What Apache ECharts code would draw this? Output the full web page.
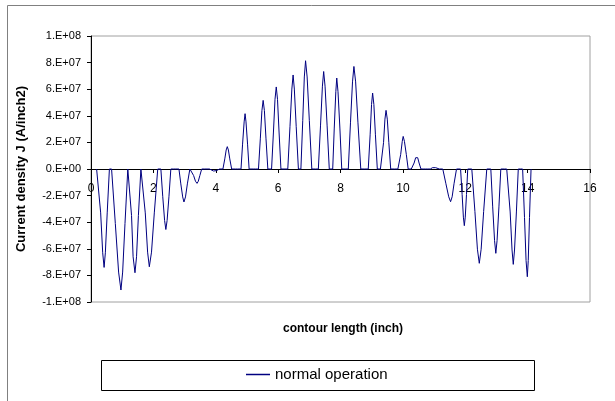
<!DOCTYPE html>
<html>
<head>
<meta charset="utf-8">
<script src="https://cdn.jsdelivr.net/npm/echarts@6/dist/echarts.min.js"></script>
<style>
  html, body { margin: 0; padding: 0; background: #fff; }
  #chart { width: 615px; height: 401px; }
</style>
</head>
<body>
<div id="chart"></div>
<script>
// contour length (inch)
const contourLength = [
  0.18,
  0.24, 0.31, 0.375, 0.42, 0.46, 0.52, 0.59,
  0.63,
  0.66, 0.78, 0.885, 0.96, 1.015, 1.09, 1.18,
  1.22, 1.30, 1.35, 1.41, 1.46, 1.52, 1.60,
  1.65, 1.74, 1.815, 1.87, 1.94, 2.03, 2.14,
  2.19,
  2.24, 2.30, 2.36, 2.40, 2.44, 2.50, 2.56,
  2.64, 2.72, 2.78,
  2.82, 2.88, 2.94, 2.98, 3.03, 3.09, 3.17,
  3.21, 3.29, 3.35, 3.40, 3.44, 3.49, 3.55,
  3.63, 3.72, 3.80, 3.86, 3.93, 3.98, 4.03, 4.07, 4.12, 4.18,
  4.23, 4.29, 4.335, 4.37, 4.405, 4.45, 4.51,
  4.57, 4.63, 4.70, 4.76,
  4.81, 4.86, 4.91, 4.94, 4.97, 5.02, 5.07,
  5.13, 5.20, 5.27, 5.33,
  5.37, 5.43, 5.48, 5.52, 5.56, 5.61, 5.67,
  5.73,
  5.79, 5.85, 5.90, 5.94, 5.98, 6.03, 6.09,
  6.15, 6.22, 6.27,
  6.31, 6.38, 6.44, 6.48, 6.52, 6.58, 6.65,
  6.69,
  6.73, 6.79, 6.84, 6.88, 6.93, 7.00, 7.08,
  7.14, 7.20, 7.25,
  7.29, 7.36, 7.42, 7.46, 7.505, 7.57, 7.64,
  7.70,
  7.75, 7.80, 7.85, 7.88, 7.92, 7.98, 8.04,
  8.10, 8.15, 8.21,
  8.25, 8.32, 8.385, 8.43, 8.485, 8.56, 8.65,
  8.71, 8.78, 8.84,
  8.89, 8.95, 8.995, 9.03, 9.07, 9.12, 9.18,
  9.23, 9.28,
  9.32, 9.38, 9.425, 9.46, 9.50, 9.55, 9.61,
  9.67, 9.73, 9.79, 9.84,
  9.88, 9.93, 9.98, 10.01, 10.05, 10.11, 10.17,
  10.22, 10.27,
  10.31, 10.36, 10.41, 10.44, 10.475, 10.52, 10.58,
  10.65, 10.72, 10.80, 10.88, 10.95, 11.00, 11.05, 11.10, 11.17, 11.23,
  11.28, 11.38, 11.47, 11.53, 11.58, 11.64, 11.72,
  11.78,
  11.85, 11.90, 11.94, 11.97, 12.00, 12.04, 12.08,
  12.14,
  12.21, 12.31, 12.39, 12.45, 12.51, 12.59, 12.69,
  12.75,
  12.82, 12.88, 12.94, 12.98, 13.02, 13.08, 13.14,
  13.20, 13.26, 13.33,
  13.38, 13.44, 13.50, 13.54, 13.58, 13.64, 13.70,
  13.77,
  13.84, 13.90, 13.95, 13.99, 14.02, 14.06, 14.11
];

// current density J (A/inch2), normal operation
const normalOperation = [
  0,
  0, -3.3e7, -6.3e7, -7.4e7, -6.3e7, -3.3e7, 0,
  0,
  0, -4.1e7, -7.75e7, -9.1e7, -7.75e7, -4.1e7, 0,
  0, -3.5e7, -6.6e7, -7.8e7, -6.6e7, -3.5e7, 0,
  0, -3.3e7, -6.25e7, -7.35e7, -6.25e7, -3.3e7, 0,
  0,
  0, -2.05e7, -3.87e7, -4.55e7, -3.87e7, -2.05e7, 0,
  0, 0, 0,
  0, -1.12e7, -2.1e7, -2.48e7, -2.1e7, -1.12e7, 0,
  0, -0.49e7, -0.92e7, -1.08e7, -0.92e7, -0.49e7, 0,
  0, 0, 0, 0, -0.15e7, -0.28e7, -0.12e7, 0, 0, 0,
  0, 0.76e7, 1.43e7, 1.68e7, 1.43e7, 0.76e7, 0,
  0, 0, 0, 0,
  0, 1.87e7, 3.54e7, 4.16e7, 3.54e7, 1.87e7, 0,
  0, 0, 0, 0,
  0, 2.32e7, 4.39e7, 5.16e7, 4.39e7, 2.32e7, 0,
  0,
  0, 2.78e7, 5.24e7, 6.17e7, 5.24e7, 2.78e7, 0,
  0, 0, 0,
  0, 3.18e7, 6.01e7, 7.07e7, 6.01e7, 3.18e7, 0,
  0,
  0, 3.66e7, 6.92e7, 8.14e7, 6.92e7, 3.66e7, 0,
  0, 0, 0,
  0, 3.3e7, 6.23e7, 7.33e7, 6.23e7, 3.3e7, 0,
  0,
  0, 3.08e7, 5.81e7, 6.84e7, 5.81e7, 3.08e7, 0,
  0, 0, 0,
  0, 3.47e7, 6.55e7, 7.71e7, 6.55e7, 3.47e7, 0,
  0, 0, 0,
  0, 2.57e7, 4.85e7, 5.71e7, 4.85e7, 2.57e7, 0,
  0, 0,
  0, 1.98e7, 3.75e7, 4.41e7, 3.75e7, 1.98e7, 0,
  0, 0, 0, 0,
  0, 1.1e7, 2.08e7, 2.45e7, 2.08e7, 1.1e7, 0,
  0, 0,
  0, 0.45e7, 0.85e7, 1.0e7, 0.85e7, 0.45e7, 0,
  0, 0, 0, 0, 0.1e7, 0.18e7, 0.1e7, 0, 0, 0,
  0, -1.11e7, -2.09e7, -2.46e7, -2.09e7, -1.11e7, 0,
  0,
  0, -1.92e7, -3.62e7, -4.26e7, -3.62e7, -1.92e7, 0,
  0,
  0, -3.19e7, -6.03e7, -7.09e7, -6.03e7, -3.19e7, 0,
  0,
  0, -2.85e7, -5.39e7, -6.34e7, -5.39e7, -2.85e7, 0,
  0, 0, 0,
  0, -3.23e7, -6.09e7, -7.17e7, -6.09e7, -3.23e7, 0,
  0,
  0, -3.65e7, -6.89e7, -8.1e7, -6.89e7, -3.65e7, 0
];

const yTickValues = [-1e8, -8e7, -6e7, -4e7, -2e7, 0, 2e7, 4e7, 6e7, 8e7, 1e8];
const yTickLabels = ['-1.E+08', '-8.E+07', '-6.E+07', '-4.E+07', '-2.E+07', '0.E+00',
                     '2.E+07', '4.E+07', '6.E+07', '8.E+07', '1.E+08'];

const seriesName = 'normal operation';
const xTitle = 'contour length (inch)';
const yTitle = 'Current density J (A/inch2)';

const FONT = '"Liberation Sans", Arial, sans-serif';

const points = contourLength.map((x, i) => [x, normalOperation[i]]);

const chart = echarts.init(document.getElementById('chart'), null, { renderer: 'canvas' });
chart.setOption({
  animation: false,
  backgroundColor: '#ffffff',
  grid: {
    left: 91, right: 25, top: 36, bottom: 99,
    show: true, borderColor: '#a0a0a0', borderWidth: 1, backgroundColor: '#ffffff'
  },
  xAxis: {
    type: 'value', min: 0, max: 16, interval: 2,
    position: 'bottom', offset: -133,
    axisLine: { show: true, onZero: false, lineStyle: { color: '#000000', width: 1 } },
    axisTick: { show: true, inside: false, length: 4, lineStyle: { color: '#000000' } },
    axisLabel: { color: '#000000', fontFamily: FONT, fontSize: 12, margin: 14 },
    splitLine: { show: false }
  },
  yAxis: {
    type: 'value', min: -1e8, max: 1e8, interval: 2e7,
    name: yTitle, nameLocation: 'middle', nameGap: 63,
    nameTextStyle: { color: '#000000', fontFamily: FONT, fontSize: 13, fontWeight: 'bold' },
    axisLine: { show: true, lineStyle: { color: '#000000', width: 1 } },
    axisTick: { show: true, inside: false, length: 4, lineStyle: { color: '#000000' } },
    axisLabel: {
      color: '#000000', fontFamily: FONT, fontSize: 11, margin: 10,
      formatter: function (v) {
        const i = yTickValues.findIndex(t => Math.abs(t - v) < 1);
        return i >= 0 ? yTickLabels[i] : '';
      }
    },
    splitLine: { show: false }
  },
  legend: {
    data: [seriesName],
    left: 246, top: 367, padding: 0,
    icon: 'rect', itemWidth: 24, itemHeight: 1.5, itemGap: 10,
    textStyle: { color: '#000000', fontFamily: FONT, fontSize: 15 }
  },
  graphic: [
    { type: 'line', shape: { x1: 7.5, y1: 5.5, x2: 615, y2: 5.5 }, style: { stroke: '#808080', lineWidth: 1 }, silent: true },
    { type: 'line', shape: { x1: 7.5, y1: 5.5, x2: 7.5, y2: 401 }, style: { stroke: '#808080', lineWidth: 1 }, silent: true },
    { type: 'rect', shape: { x: 101.5, y: 360.5, width: 433, height: 30 }, style: { fill: 'none', stroke: '#000000', lineWidth: 1 }, silent: true },
    { type: 'text', x: 343, y: 329, style: { text: xTitle, fill: '#000000', font: 'bold 12px ' + FONT, align: 'center', verticalAlign: 'middle' }, silent: true }
  ],
  series: [{
    name: seriesName,
    type: 'line',
    data: points,
    showSymbol: false,
    symbol: 'none',
    lineStyle: { color: '#000080', width: 1 },
    itemStyle: { color: '#000080' }
  }]
});
</script>
</body>
</html>
